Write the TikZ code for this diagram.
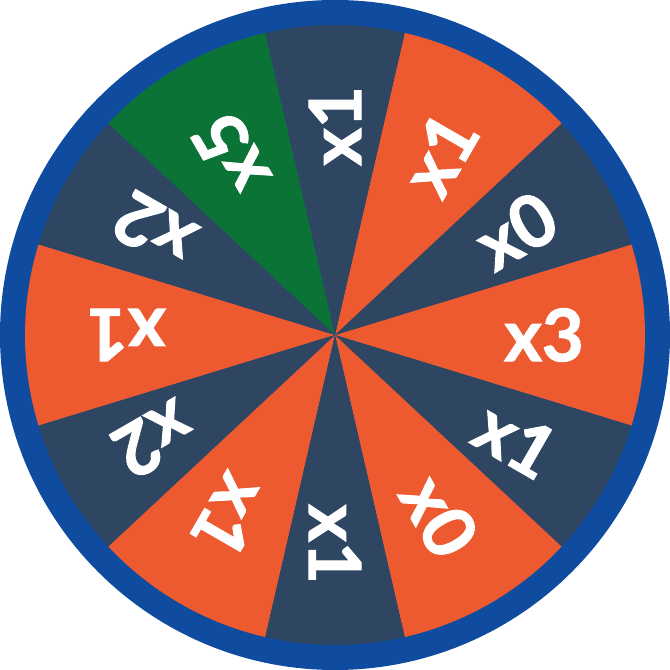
\documentclass[tikz,border=0pt]{standalone}
\usepackage{fontspec}
\setmainfont{Lato}[BoldFeatures={FakeBold=1.6}]
\definecolor{wheelnavy}{HTML}{2E4662}
\definecolor{wheelorange}{HTML}{EE5A2F}
\definecolor{wheelgreen}{HTML}{0B7336}
\definecolor{wheelrim}{HTML}{0F4C9F}

\begin{document}
\begin{tikzpicture}[font=\fontsize{20.5}{24}\selectfont\bfseries]
		\def\Ro{3.35}\def\Ri{3.10}\def\rl{2.09}
		\useasboundingbox (-\Ro,-\Ro) rectangle (\Ro,\Ro);
		\fill[wheelrim] (0,0) circle (\Ro);
		% wide sectors (34 degrees)
		\foreach \a/\col/\lab in {0/wheelorange/x3, 60/wheelorange/x1, 120/wheelgreen/x5, 180/wheelorange/x1, 240/wheelorange/x1, 300/wheelorange/x0} {
			\fill[\col] (0,0) -- ({\a-17}:\Ri) arc ({\a-17}:{\a+17}:\Ri) -- cycle;
			\node[white, inner sep=0pt, rotate=\a] (lab-\a) at (\a:\rl) {\lab};
		}
		% narrow sectors (26 degrees)
		\foreach \a/\lab in {30/x0, 90/x1, 150/x2, 210/x2, 270/x1, 330/x1} {
			\fill[wheelnavy] (0,0) -- ({\a-13}:\Ri) arc ({\a-13}:{\a+13}:\Ri) -- cycle;
			\node[white, inner sep=0pt, rotate=\a] (lab-\a) at (\a:\rl) {\lab};
		}
	\end{tikzpicture}
\end{document}
